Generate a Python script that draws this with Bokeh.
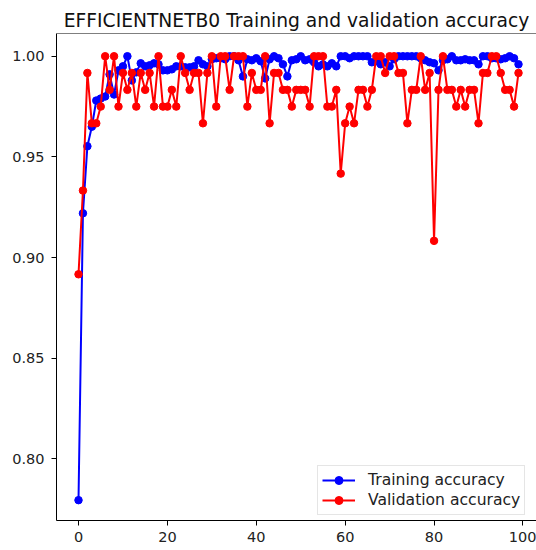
from bokeh.plotting import figure
from bokeh.models import Span, FixedTicker, NumeralTickFormatter, Range1d, Legend, LegendItem
from bokeh.embed import file_html
from bokeh.resources import INLINE

# Per-epoch accuracy of the EfficientNetB0 run
epochs = list(range(100))

train_acc = [
    0.7795, 0.9220, 0.9553, 0.9650, 0.9780, 0.9790, 0.9800, 0.9910, 0.9810, 0.9930,
    0.9950, 1.0000, 0.9880, 0.9920, 0.9965, 0.9950, 0.9955, 0.9965, 0.9960, 0.9930,
    0.9930, 0.9935, 0.9950, 0.9950, 0.9945, 0.9945, 0.9950, 0.9980, 0.9960, 0.9950,
    0.9985, 0.9990, 0.9990, 0.9985, 1.0000, 1.0000, 0.9980, 0.9900, 0.9985, 0.9980,
    0.9990, 0.9975, 0.9890, 0.9985, 1.0000, 0.9990, 0.9960, 0.9900, 0.9980, 0.9985,
    1.0000, 0.9980, 0.9985, 0.9970, 0.9950, 0.9960, 0.9950, 0.9965, 0.9950, 1.0000,
    1.0000, 0.9990, 1.0000, 1.0000, 1.0000, 1.0000, 0.9970, 0.9975, 0.9960, 0.9970,
    0.9950, 0.9985, 1.0000, 1.0000, 1.0000, 1.0000, 1.0000, 0.9990, 0.9980, 0.9970,
    0.9965, 0.9930, 0.9980, 0.9985, 1.0000, 0.9980, 0.9980, 0.9985, 0.9980, 0.9980,
    0.9960, 1.0000, 1.0000, 0.9990, 0.9990, 0.9985, 0.9990, 1.0000, 0.9990, 0.9960,
]

val_acc = [
    0.8917, 0.9333, 0.9917, 0.9667, 0.9667, 0.9750, 1.0000, 0.9833, 1.0000, 0.9750,
    0.9917, 0.9833, 0.9917, 0.9750, 0.9917, 0.9833, 0.9917, 0.9750, 1.0000, 0.9750,
    0.9750, 0.9833, 0.9750, 1.0000, 0.9917, 0.9833, 0.9917, 0.9917, 0.9667, 0.9917,
    1.0000, 0.9750, 1.0000, 1.0000, 0.9833, 1.0000, 1.0000, 1.0000, 0.9750, 0.9917,
    0.9833, 0.9833, 1.0000, 0.9667, 0.9917, 0.9917, 0.9833, 0.9833, 0.9750, 0.9833,
    0.9833, 0.9833, 0.9750, 1.0000, 1.0000, 1.0000, 0.9750, 0.9750, 0.9833, 0.9417,
    0.9667, 0.9750, 0.9667, 0.9833, 0.9833, 0.9750, 0.9833, 1.0000, 1.0000, 0.9917,
    1.0000, 1.0000, 0.9917, 0.9917, 0.9667, 0.9833, 0.9833, 1.0000, 0.9833, 0.9917,
    0.9083, 0.9833, 1.0000, 0.9833, 0.9833, 0.9750, 0.9833, 0.9750, 0.9833, 0.9833,
    0.9667, 0.9917, 0.9917, 1.0000, 1.0000, 0.9917, 0.9833, 0.9833, 0.9750, 0.9917,
]

x_ticks = [0, 20, 40, 60, 80, 100]
y_ticks = [0.80, 0.85, 0.90, 0.95, 1.00]

FONT = "DejaVu Sans"

p = figure(
    width=536, height=550,
    output_backend="svg", toolbar_location=None,
    title="EFFICIENTNETB0 Training and validation accuracy",
    x_range=Range1d(-4.95, 103.05), y_range=Range1d(0.7694, 1.0113),
    min_border_left=56, min_border_right=0, min_border_top=33, min_border_bottom=30,
)
p.background_fill_color = "white"
p.border_fill_color = "white"
p.grid.visible = False
p.outline_line_color = None

# top spine
p.add_layout(Span(location=1.0113, dimension="width", line_color="black", line_width=1))

p.title.text_font = FONT
p.title.text_font_size = "18.7px"
p.title.text_font_style = "normal"
p.title.text_color = "#111111"
p.title.align = "center"
p.title.offset = -3
p.title.standoff = 6

for ax in (p.xaxis[0], p.yaxis[0]):
    ax.axis_line_color = "black"
    ax.axis_line_width = 1
    ax.major_tick_line_color = "black"
    ax.major_tick_out = 5
    ax.major_tick_in = 0
    ax.minor_tick_line_color = None
    ax.major_label_text_font = FONT
    ax.major_label_text_font_size = "14.5px"
    ax.major_label_text_color = "#222222"

p.xaxis[0].ticker = FixedTicker(ticks=x_ticks)
p.xaxis[0].major_label_standoff = 6
p.yaxis[0].ticker = FixedTicker(ticks=y_ticks)
p.yaxis[0].formatter = NumeralTickFormatter(format="0.00")
p.yaxis[0].major_label_standoff = 7

tl = p.line(epochs, train_acc, line_color="blue", line_width=2)
ts = p.scatter(epochs, train_acc, size=7.5, fill_color="blue", line_color="blue")
vl = p.line(epochs, val_acc, line_color="red", line_width=2)
vs = p.scatter(epochs, val_acc, size=7.5, fill_color="red", line_color="red")

legend = Legend(
    items=[
        LegendItem(label="Training accuracy", renderers=[tl, ts]),
        LegendItem(label="Validation accuracy", renderers=[vl, vs]),
    ],
    location=(261, 5),
    label_text_font=FONT,
    label_text_font_size="15.6px",
    label_text_color="#222222",
    glyph_width=33, glyph_height=20, label_height=20,
    label_standoff=13, spacing=0, padding=4, margin=0,
    border_line_color="#cccccc", border_line_width=1,
    background_fill_alpha=0.8,
)
p.add_layout(legend)

open("out.html", "w").write(file_html(p, INLINE))
